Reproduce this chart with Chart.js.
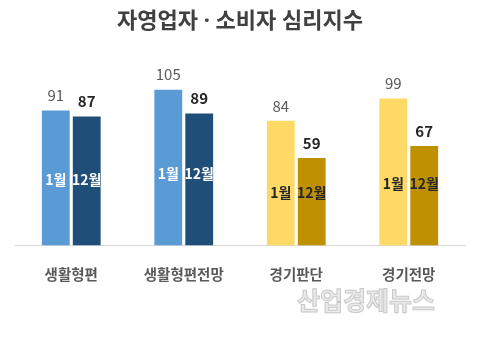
<!DOCTYPE html>
<html><head><meta charset="utf-8">
<script src="https://cdn.jsdelivr.net/npm/chart.js@4/dist/chart.umd.min.js"></script>
<style>html,body{margin:0;padding:0;background:#fff}#wrap{width:480px;height:353px}</style>
</head><body><div id="wrap"><canvas id="c" width="480" height="353"></canvas></div>
<script>
const categories = ['생활형편', '생활형편전망', '경기판단', '경기전망'];
const seriesNames = ['1월', '12월'];
const janValues = [91, 105, 84, 99];
const decValues = [87, 89, 59, 67];
const janColors = ['#5b9bd5', '#5b9bd5', '#ffd966', '#ffd966'];
const decColors = ['#1f4e79', '#1f4e79', '#bf9000', '#bf9000'];
const innerTextColors = ['#ffffff', '#ffffff', '#262626', '#262626'];
const KFONT = '"Noto Sans CJK KR", "Noto Sans", sans-serif';
const TFONT = '"Noto Sans", "Noto Sans CJK KR", sans-serif';

const labelPlugin = {
  id: 'labels',
  afterDatasetsDraw(chart) {
    const ctx = chart.ctx;
    const m0 = chart.getDatasetMeta(0), m1 = chart.getDatasetMeta(1);
    ctx.save();
    ctx.textAlign = 'center';
    ctx.textBaseline = 'middle';
    categories.forEach((c, i) => {
      const b0 = m0.data[i], b1 = m1.data[i];
      ctx.font = '15px ' + KFONT;
      ctx.fillStyle = '#595959';
      ctx.fillText(String(janValues[i]), b0.x, b0.y - 15);
      ctx.font = 'bold 15px ' + KFONT;
      ctx.fillStyle = '#262626';
      ctx.fillText(String(decValues[i]), b1.x, b1.y - 15);
      const mid = ((b0.y + b0.base) / 2 + (b1.y + b1.base) / 2) / 2;
      ctx.font = 'bold 14px ' + KFONT;
      ctx.fillStyle = innerTextColors[i];
      ctx.fillText(seriesNames[0], b0.x, mid);
      ctx.fillText(seriesNames[1], b1.x, mid);
    });
    ctx.font = 'bold 25px ' + KFONT;
    ctx.lineWidth = 1;
    ctx.fillStyle = 'rgba(232,232,232,0.9)';
    ctx.strokeStyle = 'rgba(195,195,195,0.9)';
    ctx.fillText('산업경제뉴스', 366, 300);
    ctx.strokeText('산업경제뉴스', 366, 300);
    ctx.restore();
  }
};

new Chart(document.getElementById('c'), {
  type: 'bar',
  data: {
    labels: categories,
    datasets: [
      { label: seriesNames[0], data: janValues, backgroundColor: janColors },
      { label: seriesNames[1], data: decValues, backgroundColor: decColors }
    ]
  },
  options: {
    responsive: false,
    animation: false,
    devicePixelRatio: 1,
    layout: { padding: { left: 15, right: 15, top: 0, bottom: 58 } },
    categoryPercentage: 0.55,
    barPercentage: 0.9,
    plugins: {
      legend: { display: false },
      tooltip: { enabled: false },
      title: {
        display: true,
        text: '자영업자 · 소비자 심리지수',
        color: '#404040',
        font: { family: TFONT, size: 22, weight: 'bold' },
        padding: { top: 9, bottom: 32 }
      }
    },
    scales: {
      x: {
        grid: { display: false },
        border: { color: '#d9d9d9', width: 1 },
        ticks: { color: '#595959', font: { family: KFONT, size: 14.5, weight: 'bold' }, padding: 12 }
      },
      y: { display: false, min: 0, max: 120 }
    }
  },
  plugins: [labelPlugin]
});
</script></body></html>
